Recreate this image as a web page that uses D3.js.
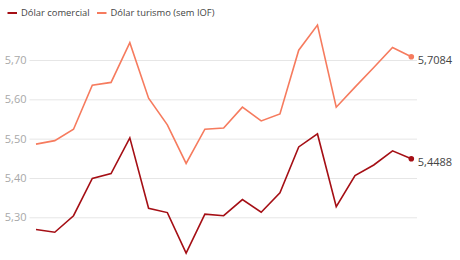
<!DOCTYPE html>
<html><head><meta charset="utf-8">
<script src="https://cdn.jsdelivr.net/npm/d3@7"></script>
<style>body{margin:0;background:#fff;} svg{display:block;font-family:"Open Sans",sans-serif;}</style>
</head><body><svg id="c" width="460" height="260"></svg>
<script>
const seriesNames = ["Dólar comercial", "Dólar turismo (sem IOF)"];
const seriesColors = ["#a50f15", "#f67b5e"];
const comercial = [5.269, 5.262, 5.304, 5.399, 5.411, 5.502, 5.323, 5.312, 5.209, 5.308, 5.304, 5.345, 5.313, 5.362, 5.479, 5.512, 5.327, 5.406, 5.433, 5.469, 5.4488];
const turismo = [5.486, 5.495, 5.524, 5.636, 5.643, 5.744, 5.603, 5.535, 5.437, 5.524, 5.527, 5.580, 5.545, 5.563, 5.725, 5.789, 5.580, 5.631, 5.681, 5.732, 5.7084];
const yTicks = [5.3, 5.4, 5.5, 5.6, 5.7];
const endLabels = ["5,4488", "5,7084"];

const svg = d3.select("#c");
const x = d3.scaleLinear().domain([0, comercial.length - 1]).range([36, 411.3]);
const y = d3.scaleLinear().domain([5.3, 5.7]).range([217.3, 60]);

// grid
const yAxis = d3.axisLeft(y).tickValues(yTicks).tickSize(-(417 - 29.5))
  .tickFormat(d => d3.format(".2f")(d).replace(".", ","));
const ga = svg.append("g").attr("transform", "translate(29.5,0)").call(yAxis);
ga.select(".domain").remove();
ga.selectAll(".tick line").attr("stroke", "#e6e6e6").attr("stroke-width", 1);
ga.selectAll(".tick text").attr("x", -3).attr("fill", "#a8a8a8").attr("font-size", 11).attr("font-family", "Open Sans");

const data = [comercial, turismo];
const line = d3.line().x((d, i) => x(i)).y(d => y(d));
data.forEach((s, k) => {
  svg.append("path").datum(s).attr("d", line).attr("fill", "none")
    .attr("stroke", seriesColors[k]).attr("stroke-width", 1.6).attr("stroke-linejoin", "miter");
  const last = s.length - 1;
  svg.append("circle").attr("cx", x(last)).attr("cy", y(s[last])).attr("r", 2.8).attr("fill", seriesColors[k]);
  svg.append("text").attr("x", x(last) + 6.5).attr("y", y(s[last]) + 3).attr("dy", "0.35em")
    .attr("font-size", 11).attr("fill", "#444").text(endLabels[k]);
});

// legend
const legX = [7.5, 97];
seriesNames.forEach((n, k) => {
  const g = svg.append("g").attr("transform", `translate(${legX[k]},13)`);
  g.append("line").attr("x1", 0).attr("x2", 9.5).attr("y1", 0).attr("y2", 0)
    .attr("stroke", seriesColors[k]).attr("stroke-width", 2);
  g.append("text").attr("x", 13.5).attr("dy", "0.35em").attr("font-size", 9.4).attr("fill", "#444").text(n);
});
</script></body></html>
